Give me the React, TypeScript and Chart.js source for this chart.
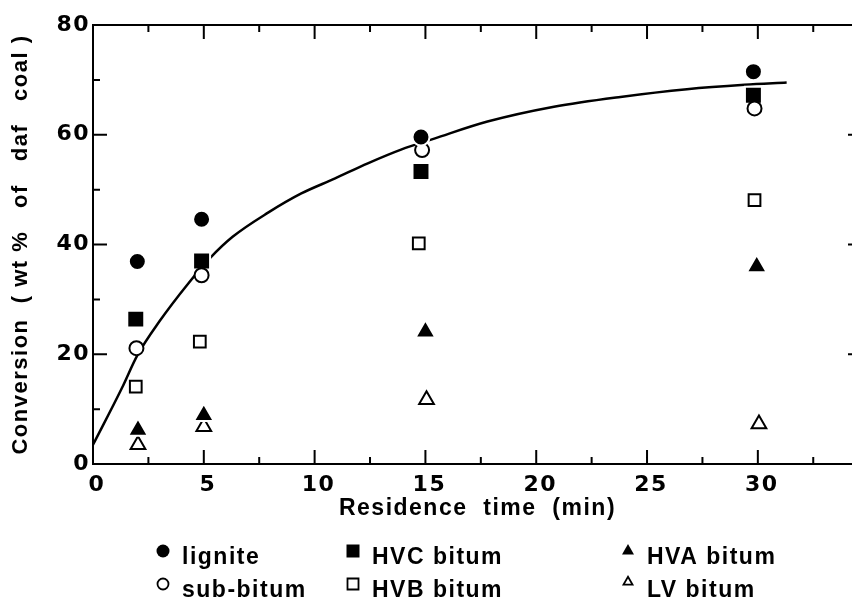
import React, { useEffect, useRef } from 'react';
import { Chart, registerables } from 'chart.js';

Chart.register(...registerables);

// ---- Data ----
const seriesLabels = ['lignite', 'sub-bitum', 'HVC bitum', 'HVB bitum', 'HVA bitum', 'LV bitum'];

const ligniteTime = [2.0, 4.9, 14.8, 29.8];
const ligniteConv = [36.9, 44.6, 59.6, 71.5];

const subBitumTime = [1.96, 4.9, 14.85, 29.85];
const subBitumConv = [21.1, 34.4, 57.2, 64.8];

const hvcTime = [1.93, 4.9, 14.8, 29.8];
const hvcConv = [26.4, 37.0, 53.3, 67.2];

const hvbTime = [1.93, 4.82, 14.7, 29.85];
const hvbConv = [14.1, 22.3, 40.2, 48.1];

const hvaTime = [2.03, 5.0, 15.0, 29.95];
const hvaConv = [6.2, 8.9, 24.1, 36.0];

const lvTime = [2.03, 5.0, 15.05, 30.05];
const lvConv = [3.5, 6.8, 11.7, 7.3];

// fitted curve
const fitTime = [0, 1.3, 2.0, 3.0, 4.3, 5.3, 6.3, 7.9, 9.4, 10.9, 12.4, 13.9, 15.4, 17.8, 20.8, 23.8, 26.8, 29.4, 31.3];
const fitConv = [3.5, 13.8, 19.8, 26.0, 32.9, 37.6, 41.4, 45.8, 49.3, 52.0, 54.8, 57.3, 59.3, 62.4, 65.1, 66.9, 68.3, 69.1, 69.5];

const xTitle = 'Residence  time  (min)';
const yTitle = 'Conversion  ( wt %   of   daf   coal )';
const xMin = 0;
const xMax = 34.7;
const xStep = 5;
const yMin = 0;
const yMax = 80;
const yStep = 20;

const pts = (xs: number[], ys: number[]) => xs.map((x, i) => ({ x, y: ys[i] }));

// ---- helpers ----
function drawMarker(ctx: CanvasRenderingContext2D, style: string, cx: number, cy: number, size: number, filled: boolean) {
  ctx.beginPath();
  if (style === 'circle') {
    ctx.arc(cx, cy, size / 2, 0, Math.PI * 2);
  } else if (style === 'rect') {
    ctx.rect(cx - size / 2, cy - size / 2, size, size);
  } else {
    const h = (size * Math.sqrt(3)) / 2;
    ctx.moveTo(cx, cy - (2 * h) / 3);
    ctx.lineTo(cx + size / 2, cy + h / 3);
    ctx.lineTo(cx - size / 2, cy + h / 3);
    ctx.closePath();
  }
  if (filled) {
    ctx.fillStyle = '#000';
    ctx.fill();
  } else {
    ctx.fillStyle = '#fff';
    ctx.fill();
    ctx.lineWidth = 1.8;
    ctx.strokeStyle = '#000';
    ctx.stroke();
  }
}

const spacingPlugin = {
  id: 'spacing',
  beforeLayout(chart: any) {
    chart.ctx.letterSpacing = '1.5px';
  },
  beforeDraw(chart: any) {
    chart.ctx.letterSpacing = '1.5px';
  },
};

const framePlugin = {
  id: 'frame',
  beforeDatasetsDraw(chart: any) {
    const { ctx, chartArea } = chart;
    const { left, right, top, bottom } = chartArea;
    const xs = chart.scales.x;
    const ys = chart.scales.y;
    ctx.save();
    ctx.strokeStyle = '#000';
    ctx.lineWidth = 2;
    ctx.lineCap = 'square';
    ctx.beginPath();
    ctx.moveTo(left, top);
    ctx.lineTo(right, top);
    ctx.lineTo(right, bottom);
    ctx.lineTo(left, bottom);
    ctx.closePath();
    ctx.stroke();

    const MAJ = 14;
    const MIN = 7;
    const xv: number[] = xs.ticks.map((t: any) => t.value);
    const yv: number[] = ys.ticks.map((t: any) => t.value);
    const minors = (vals: number[], max: number) => {
      const out: number[] = [];
      for (let i = 0; i < vals.length - 1; i++) out.push((vals[i] + vals[i + 1]) / 2);
      if (vals.length > 1) {
        const step = vals[1] - vals[0];
        const extra = vals[vals.length - 1] + step / 2;
        if (extra < max) out.push(extra);
      }
      return out;
    };
    ctx.lineCap = 'butt';
    ctx.beginPath();
    const xTick = (v: number, len: number) => {
      const px = xs.getPixelForValue(v);
      ctx.moveTo(px, bottom);
      ctx.lineTo(px, bottom - len);
      ctx.moveTo(px, top);
      ctx.lineTo(px, top + len);
    };
    const yTick = (v: number, len: number) => {
      const py = ys.getPixelForValue(v);
      ctx.moveTo(left, py);
      ctx.lineTo(left + len, py);
      ctx.moveTo(right, py);
      ctx.lineTo(right - len, py);
    };
    xv.forEach((v) => xTick(v, MAJ));
    minors(xv, xs.max).forEach((v) => xTick(v, MIN));
    yv.forEach((v) => yTick(v, MAJ));
    minors(yv, ys.max).forEach((v) => yTick(v, MIN));
    ctx.stroke();
    ctx.restore();
  },
};

const legendPlugin = {
  id: 'customLegend',
  afterDraw(chart: any) {
    const { ctx } = chart;
    const cols = [163, 353, 628];
    const rows = [564, 597];
    const items = chart.data.datasets.filter((d: any) => d.inLegend);
    ctx.save();
    ctx.letterSpacing = '1.5px';
    items.forEach((ds: any, k: number) => {
      const col = Math.floor(k / 2);
      const row = k % 2;
      const mx = cols[col];
      const by = rows[row];
      const filled = ds.backgroundColor === '#000';
      const size = ds.legendSize;
      drawMarker(ctx, ds.pointStyle, mx, by - 13 - (ds.pointStyle === 'triangle' && !filled ? 2 : 0), size, filled);
      ctx.font = 'bold 23px "Liberation Sans", Arial, sans-serif';
      ctx.fillStyle = '#000';
      ctx.textAlign = 'left';
      ctx.textBaseline = 'alphabetic';
      ctx.fillText(ds.label, mx + 19, by);
    });
    ctx.restore();
  },
};

export default function App() {
  const ref = useRef<HTMLCanvasElement>(null);

  useEffect(() => {
    document.body.style.margin = '0';
    const canvas = ref.current;
    if (!canvas) return;

    const filled = (label: string, data: any[], style: string, radius: number, legendSize: number) => ({
      label,
      data,
      pointStyle: style,
      pointRadius: radius,
      pointBackgroundColor: '#000',
      backgroundColor: '#000',
      pointBorderColor: '#fff',
      borderColor: '#fff',
      pointBorderWidth: 2,
      showLine: false,
      inLegend: true,
      legendSize,
    });
    const open = (label: string, data: any[], style: string, radius: number, legendSize: number) => ({
      label,
      data,
      pointStyle: style,
      pointRadius: radius,
      pointBackgroundColor: '#fff',
      backgroundColor: '#fff',
      pointBorderColor: '#000',
      borderColor: '#000',
      pointBorderWidth: 2,
      showLine: false,
      inLegend: true,
      legendSize,
    });

    const chart = new Chart(canvas, {
      type: 'scatter',
      data: {
        datasets: [
          filled(seriesLabels[0], pts(ligniteTime, ligniteConv), 'circle', 8.5, 13),
          open(seriesLabels[1], pts(subBitumTime, subBitumConv), 'circle', 7, 11),
          filled(seriesLabels[2], pts(hvcTime, hvcConv), 'rect', 12, 13),
          open(seriesLabels[3], pts(hvbTime, hvbConv), 'rect', 8.3, 11),
          filled(seriesLabels[4], pts(hvaTime, hvaConv), 'triangle', 11.5, 12),
          open(seriesLabels[5], pts(lvTime, lvConv), 'triangle', 8.5, 9),
          {
            label: 'fit',
            type: 'line',
            data: pts(fitTime, fitConv),
            showLine: true,
            pointRadius: 0,
            borderColor: '#000',
            backgroundColor: '#000',
            borderWidth: 2.5,
            cubicInterpolationMode: 'monotone',
            fill: false,
            inLegend: false,
          } as any,
        ] as any,
      },
      options: {
        responsive: false,
        devicePixelRatio: 1,
        animation: false,
        events: [],
        layout: { autoPadding: false, padding: { top: 25, right: 0, bottom: 78, left: 0 } },
        plugins: {
          legend: { display: false },
          tooltip: { enabled: false },
        },
        scales: {
          x: {
            type: 'linear',
            min: xMin,
            max: xMax,
            grid: { display: false, drawTicks: false },
            border: { display: false },
            ticks: {
              stepSize: xStep,
              includeBounds: false,
              autoSkip: false,
              maxRotation: 0,
              padding: 8,
              labelOffset: 4,
              color: '#000',
              font: { family: '"DejaVu Sans", sans-serif', weight: 'bold', size: 22 },
            },
            title: {
              display: true,
              text: xTitle,
              color: '#000',
              font: { family: '"Liberation Sans", Arial, sans-serif', weight: 'bold', size: 23 },
              padding: { top: 0, bottom: 2 },
            },
            afterFit: (scale: any) => {
              scale.height = 60;
              scale.paddingLeft = 0;
              scale.paddingRight = 0;
            },
          },
          y: {
            type: 'linear',
            min: yMin,
            max: yMax,
            grid: { display: false, drawTicks: false },
            border: { display: false },
            ticks: {
              stepSize: yStep,
              autoSkip: false,
              padding: 3,
              color: '#000',
              font: { family: '"DejaVu Sans", sans-serif', weight: 'bold', size: 22 },
            },
            title: {
              display: true,
              text: yTitle,
              color: '#000',
              font: { family: '"Liberation Sans", Arial, sans-serif', weight: 'bold', size: 22 },
              padding: { top: 8, bottom: 0 },
            },
            afterFit: (scale: any) => {
              scale.width = 93;
              scale.paddingTop = 0;
              scale.paddingBottom = 0;
            },
          },
        },
      } as any,
      plugins: [spacingPlugin, framePlugin, legendPlugin],
    });

    return () => chart.destroy();
  }, []);

  return (
    <div style={{ width: 852, height: 602, overflow: 'hidden', background: '#fff' }}>
      <canvas ref={ref} width={862} height={602} style={{ display: 'block' }} />
    </div>
  );
}
